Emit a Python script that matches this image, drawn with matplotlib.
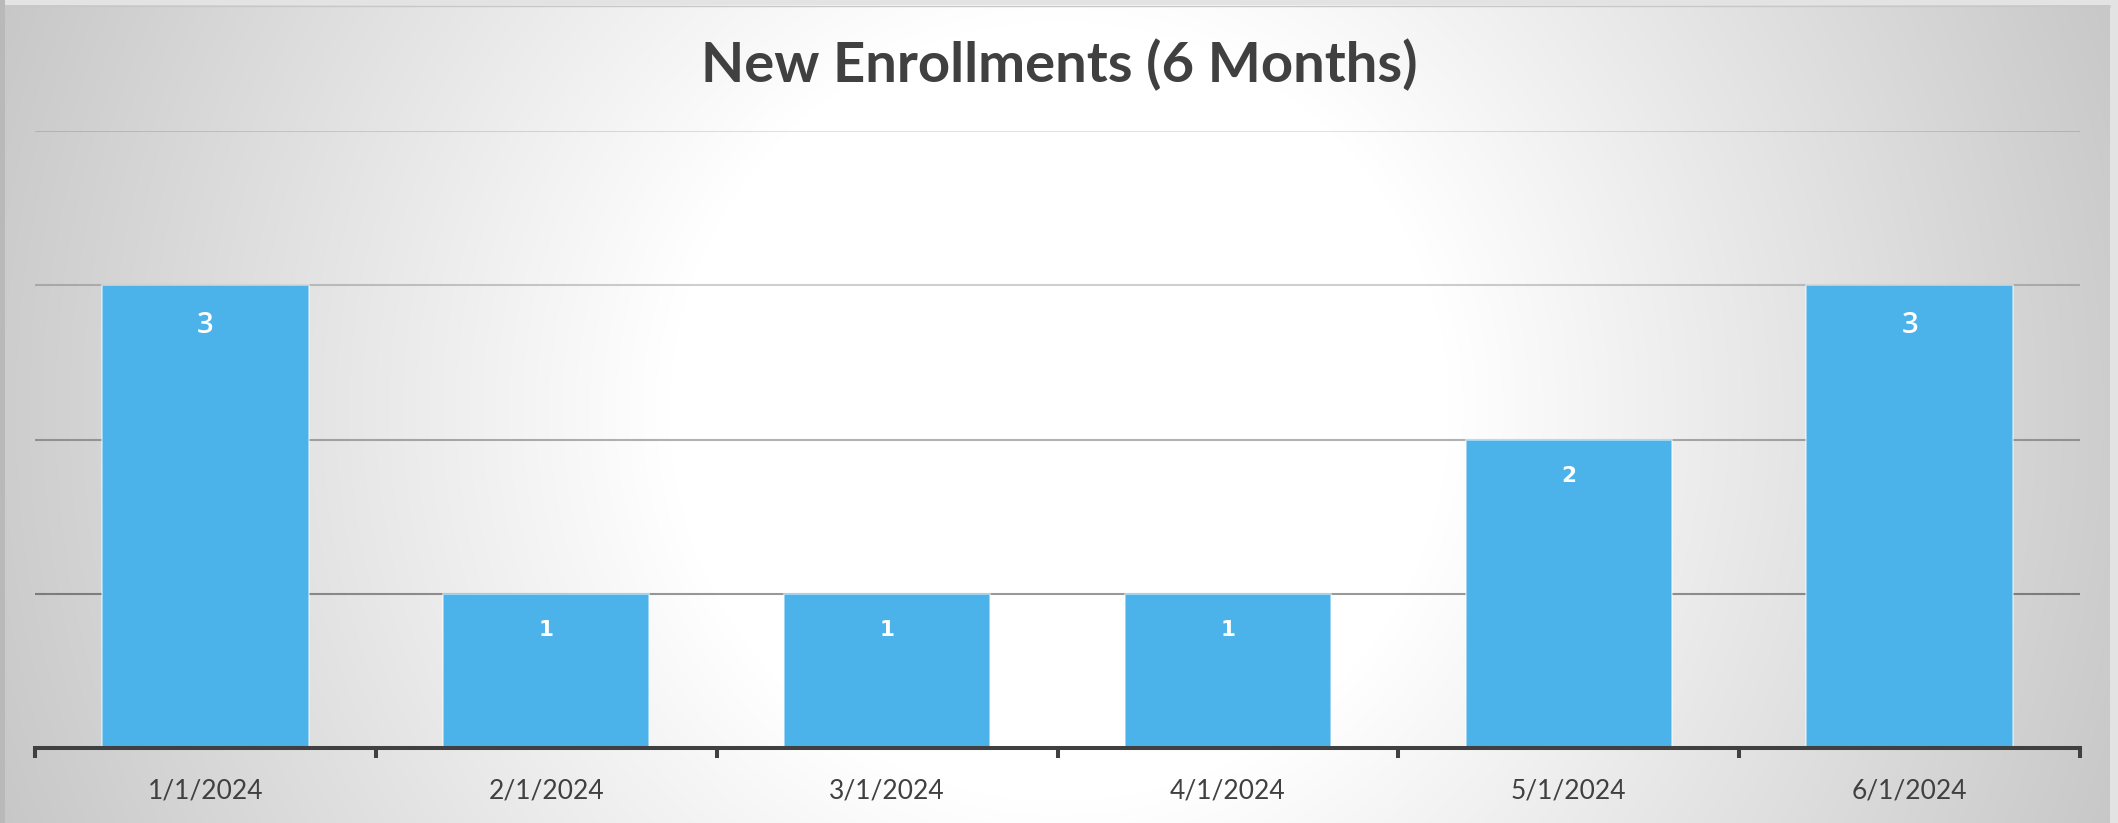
import numpy as np
import matplotlib
matplotlib.use("Agg")
import matplotlib.pyplot as plt
from matplotlib.patches import Rectangle

# ---- data ----
categories = ["1/1/2024", "2/1/2024", "3/1/2024", "4/1/2024", "5/1/2024", "6/1/2024"]
enrollments = [3, 1, 1, 1, 2, 3]
title = "New Enrollments (6 Months)"
y_max = 4
y_grid = [1, 2, 3, 4]

W, H, DPI = 2118, 823, 100
fig = plt.figure(figsize=(W / DPI, H / DPI), dpi=DPI)
fig.patch.set_facecolor("#e3e3e3")

# ---- radial gradient background ----
bg = fig.add_axes([0, 0, 1, 1])
bg.set_axis_off()
yy, xx = np.mgrid[0:H, 0:W]
cx, cy = 1059, 411
r = np.hypot(xx - cx, yy - cy)
v = 255 - 0.075 * np.clip(r - 390, 0, None)
v = np.clip(v, 0, 255) / 255.0
img = np.dstack([v, v, v])
bg.imshow(img, extent=[0, W, H, 0], interpolation="bilinear", aspect="auto")
bg.set_xlim(0, W)
bg.set_ylim(H, 0)
# frame borders
bg.add_patch(Rectangle((0, 0), W, 5, color="#e3e3e3", lw=0))
bg.add_patch(Rectangle((2110, 0), W - 2110, H, color="#e3e3e3", lw=0))
bg.add_patch(Rectangle((0, 0), 5, H, color="#b9b9b9", lw=0))
bg.add_line(plt.Line2D([5, 2110], [5.5, 5.5], color="#c8c8c8", lw=1))

# ---- main axes ----
left, right = 35 / W, 2080 / W
bottom, top = (H - 748) / H, (H - 131) / H
ax = fig.add_axes([left, bottom, right - left, top - bottom])
ax.set_facecolor("none")

x = np.arange(len(categories))
ax.set_xlim(-0.5, len(categories) - 0.5)
ax.set_ylim(0, y_max)

grid_alpha = [0.40, 0.30, 0.19, 0.12]
for yv, a in zip(y_grid, grid_alpha):
    ax.axhline(yv, color="black", alpha=a, lw=1.5, zorder=1)

bars = ax.bar(x, enrollments, width=0.605, color="#4bb3ea",
              edgecolor=(1, 1, 1, 0.55), linewidth=1.2, zorder=2)

vmax = max(enrollments)
for xi, val in zip(x, enrollments):
    if val == vmax:
        ax.annotate(str(val), xy=(xi, val), xytext=(0, -40), textcoords="offset pixels",
                    ha="center", va="center", color="white", fontsize=21,
                    family="Open Sans", fontweight="semibold", zorder=3)
    else:
        ax.annotate(str(val), xy=(xi, val), xytext=(0, -36), textcoords="offset pixels",
                    ha="center", va="center", color="white", fontsize=15.5,
                    family="DejaVu Sans", fontweight="bold", zorder=3)

for s in ["top", "left", "right"]:
    ax.spines[s].set_visible(False)
ax.spines["bottom"].set_color("#404040")
ax.spines["bottom"].set_linewidth(2.9)
ax.spines["bottom"].set_zorder(4)

ax.set_yticks([])
ax.set_xticks(x)
ax.set_xticklabels(categories, family="Lato", fontsize=19, color="#404040")
ax.tick_params(axis="x", which="major", length=0, pad=22)
ax.set_xticks(np.arange(-0.5, len(categories)), minor=True)
ax.tick_params(axis="x", which="minor", length=7.2, width=2.9, color="#404040", direction="out")

fig.text(0.5, (H - 82) / H, title, ha="center", va="baseline",
         family="Lato", fontweight="bold", fontsize=40.5, color="#404040")

fig.savefig("out.png", dpi=DPI)
